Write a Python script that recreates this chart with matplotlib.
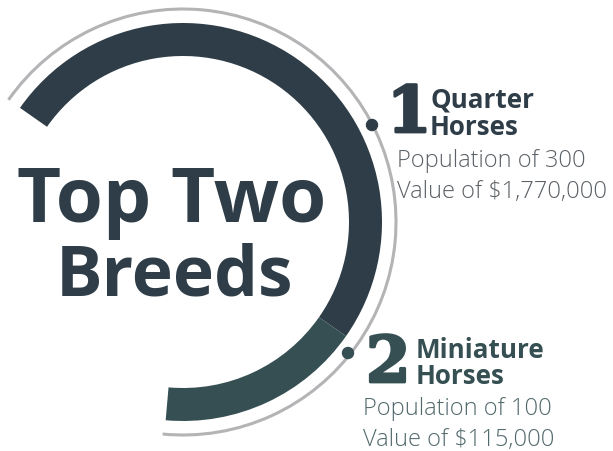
import matplotlib.pyplot as plt
import matplotlib.patheffects as pe
from matplotlib.patches import Wedge, Arc, Circle

# data
breeds = [["Quarter", "Horses"], ["Miniature", "Horses"]]
ranks = ["1", "2"]
population = [300, 100]
value_txt = ["$1,770,000", "$115,000"]
colors = ["#2e3d47", "#354f53"]
sub_colors = ["#5b6166", "#52696c"]

W, H = 613, 452
fig = plt.figure(figsize=(W / 100, H / 100), dpi=100)
ax = fig.add_axes([0, 0, 1, 1])
ax.set_xlim(0, W)
ax.set_ylim(0, H)
ax.axis("off")

cx, cy = 183, H - 223
r_out, band = 199, 33
start, sweep = 145, 240
deg_per = sweep / sum(population)

# arc segments (clockwise from upper left)
t2 = start
for v, c in zip(population, colors):
    t1 = t2 - v * deg_per
    ax.add_patch(Wedge((cx, cy), r_out, t1, t2, width=band, facecolor=c,
                       edgecolor="none"))
    t2 = t1

# thin outer ring
ax.add_patch(Arc((cx, cy), 2 * 213, 2 * 213, theta1=start - sweep - 0.5,
                 theta2=start, color="#b4b4b7", lw=2.2))

# centre title
ax.text(172, H - 222, "Top Two", ha="center", va="baseline", fontsize=55,
        fontweight="bold", family="Open Sans", color="#2e3d47")
ax.text(174, H - 295, "Breeds", ha="center", va="baseline", fontsize=50,
        fontweight="bold", family="Open Sans", color="#2e3d47")

# labels
dots = [(372, 126), (348, 354)]
num_pos = [(387, 133), (366, 383)]
name_x = [430, 416]
name_y = [(108, 135), (358, 384)]
sub_x = [397, 363]
sub_y = [(167, 198), (415, 446)]
for i in range(2):
    ax.add_patch(Circle((dots[i][0], H - dots[i][1]), 5.5, color=colors[i]))
    ax.text(num_pos[i][0], H - num_pos[i][1], ranks[i], ha="left", va="baseline",
            fontsize=46, fontweight="bold", family="DejaVu Serif", color=colors[i],
            path_effects=[pe.withStroke(linewidth=2, foreground=colors[i])])
    for line, yy in zip(breeds[i], name_y[i]):
        ax.text(name_x[i], H - yy, line, ha="left", va="baseline",
                fontsize=18.7, fontweight="bold", family="Open Sans", color=colors[i])
    subs = ["Population of %d" % population[i], "Value of %s" % value_txt[i]]
    for line, yy in zip(subs, sub_y[i]):
        ax.text(sub_x[i], H - yy, line, ha="left", va="baseline", fontsize=17,
                fontweight="light", family="Open Sans", color=sub_colors[i])

fig.savefig("out.png", dpi=100)
